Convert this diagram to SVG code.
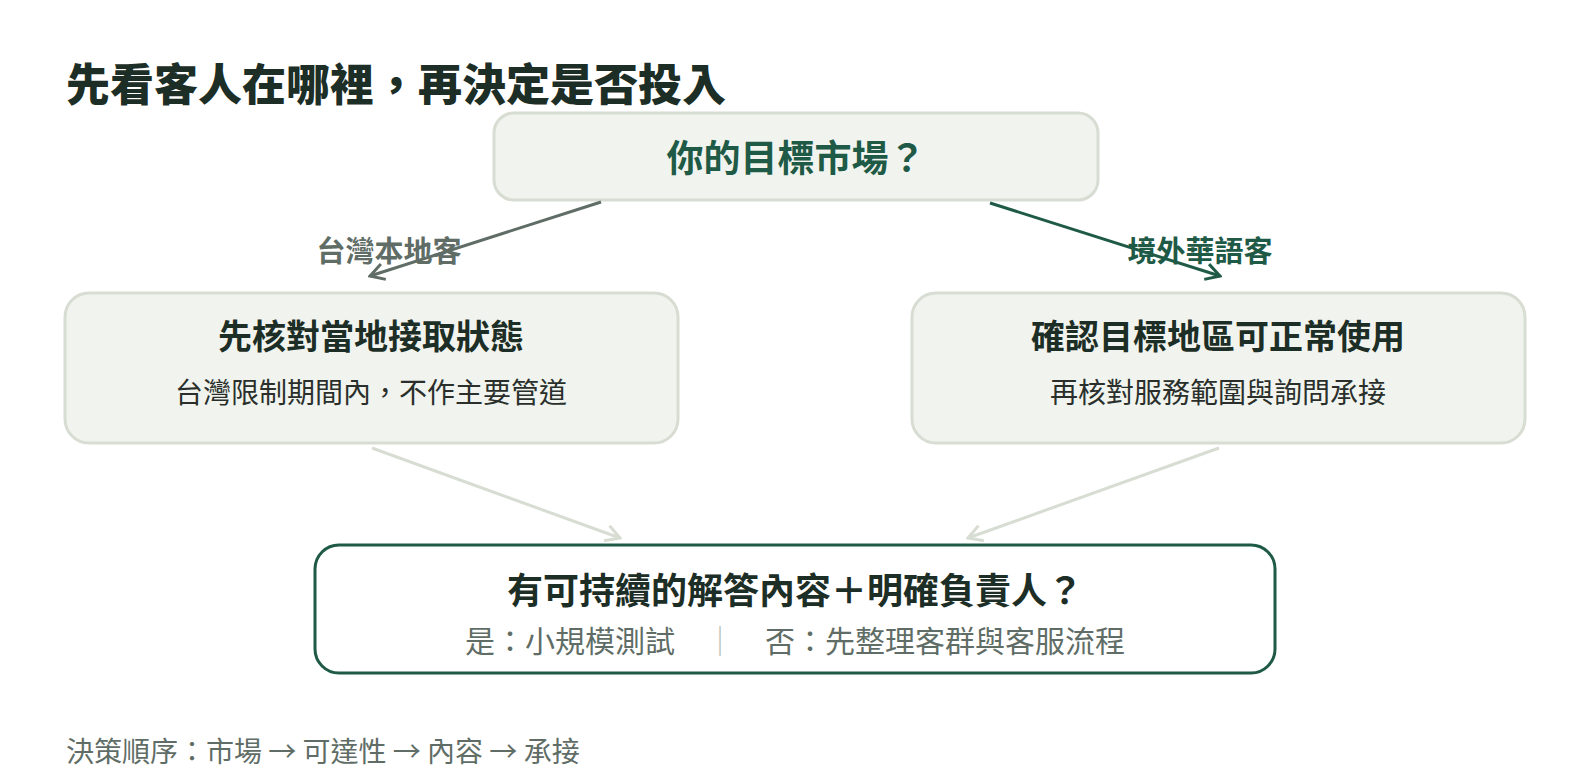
<svg xmlns="http://www.w3.org/2000/svg" width="1590" height="780" viewBox="0 0 1590 780">
<defs>
<style>
text{font-family:"Noto Sans CJK TC","Noto Sans CJK SC",sans-serif;}
.title{font-size:44px;font-weight:900;fill:#1d2e26;}
.node{fill:#f1f4ee;stroke:#d7ddd2;stroke-width:3;}
.ntitle{font-size:34px;font-weight:700;fill:#1d2e26;text-anchor:middle;}
.nsub{font-size:28px;fill:#2a2f2c;text-anchor:middle;}
.lbl{font-size:29px;font-weight:700;text-anchor:middle;}
.conn{fill:none;stroke-width:3;}
</style>
<marker id="ahGray" viewBox="0 0 20 20" refX="18" refY="10" markerWidth="20" markerHeight="20" markerUnits="userSpaceOnUse" orient="auto">
<path d="M4,2 L18,10 L4,18" fill="none" stroke="#5f6d66" stroke-width="3"/>
</marker>
<marker id="ahGreen" viewBox="0 0 20 20" refX="18" refY="10" markerWidth="20" markerHeight="20" markerUnits="userSpaceOnUse" orient="auto">
<path d="M4,2 L18,10 L4,18" fill="none" stroke="#1f5a47" stroke-width="3"/>
</marker>
<marker id="ahLight" viewBox="0 0 20 20" refX="18" refY="10" markerWidth="20" markerHeight="20" markerUnits="userSpaceOnUse" orient="auto">
<path d="M4,2 L18,10 L4,18" fill="none" stroke="#d7ddd2" stroke-width="3"/>
</marker>
</defs>
<rect width="1590" height="780" fill="#ffffff"/>
<text class="title" x="66" y="101">先看客人在哪裡，再決定是否投入</text>

<g id="node-market">
<rect class="node" x="494" y="113" width="604" height="87" rx="20"/>
<text x="796" y="172" font-size="37" font-weight="700" fill="#1f5a47" text-anchor="middle">你的目標市場？</text>
</g>

<g id="labels">
<text class="lbl" x="389" y="262" fill="#5f6d66">台灣本地客</text>
<text class="lbl" x="1200" y="262" fill="#1f5a47">境外華語客</text>
</g>

<g id="node-local">
<rect class="node" x="65" y="293" width="613" height="150" rx="24"/>
<text class="ntitle" x="371" y="349">先核對當地接取狀態</text>
<text class="nsub" x="371" y="403">台灣限制期間內，不作主要管道</text>
</g>

<g id="node-overseas">
<rect class="node" x="912" y="293" width="613" height="150" rx="24"/>
<text class="ntitle" x="1218" y="349">確認目標地區可正常使用</text>
<text class="nsub" x="1218" y="403">再核對服務範圍與詢問承接</text>
</g>

<g id="node-decision">
<rect x="315" y="545" width="960" height="128" rx="24" fill="#ffffff" stroke="#1f5a47" stroke-width="3"/>
<text x="795" y="604" font-size="36" font-weight="700" fill="#1d2e26" text-anchor="middle">有可持續的解答內容＋明確負責人？</text>
<text x="795" y="652" font-size="30" fill="#5f6d66" text-anchor="middle">是：小規模測試　<tspan fill="#b8c0b8">｜</tspan>　否：先整理客群與客服流程</text>
</g>

<g id="connectors">
<line class="conn" x1="601" y1="202" x2="370" y2="276" stroke="#5f6d66" marker-end="url(#ahGray)"/>
<line class="conn" x1="990" y1="203" x2="1220" y2="276" stroke="#1f5a47" marker-end="url(#ahGreen)"/>
<line class="conn" x1="372" y1="448" x2="620" y2="538" stroke="#d7ddd2" marker-end="url(#ahLight)"/>
<line class="conn" x1="1219" y1="448" x2="968" y2="538" stroke="#d7ddd2" marker-end="url(#ahLight)"/>
</g>

<text x="66" y="762" font-size="28" fill="#5f6d66">決策順序：市場 → 可達性 → 內容 → 承接</text>
</svg>
